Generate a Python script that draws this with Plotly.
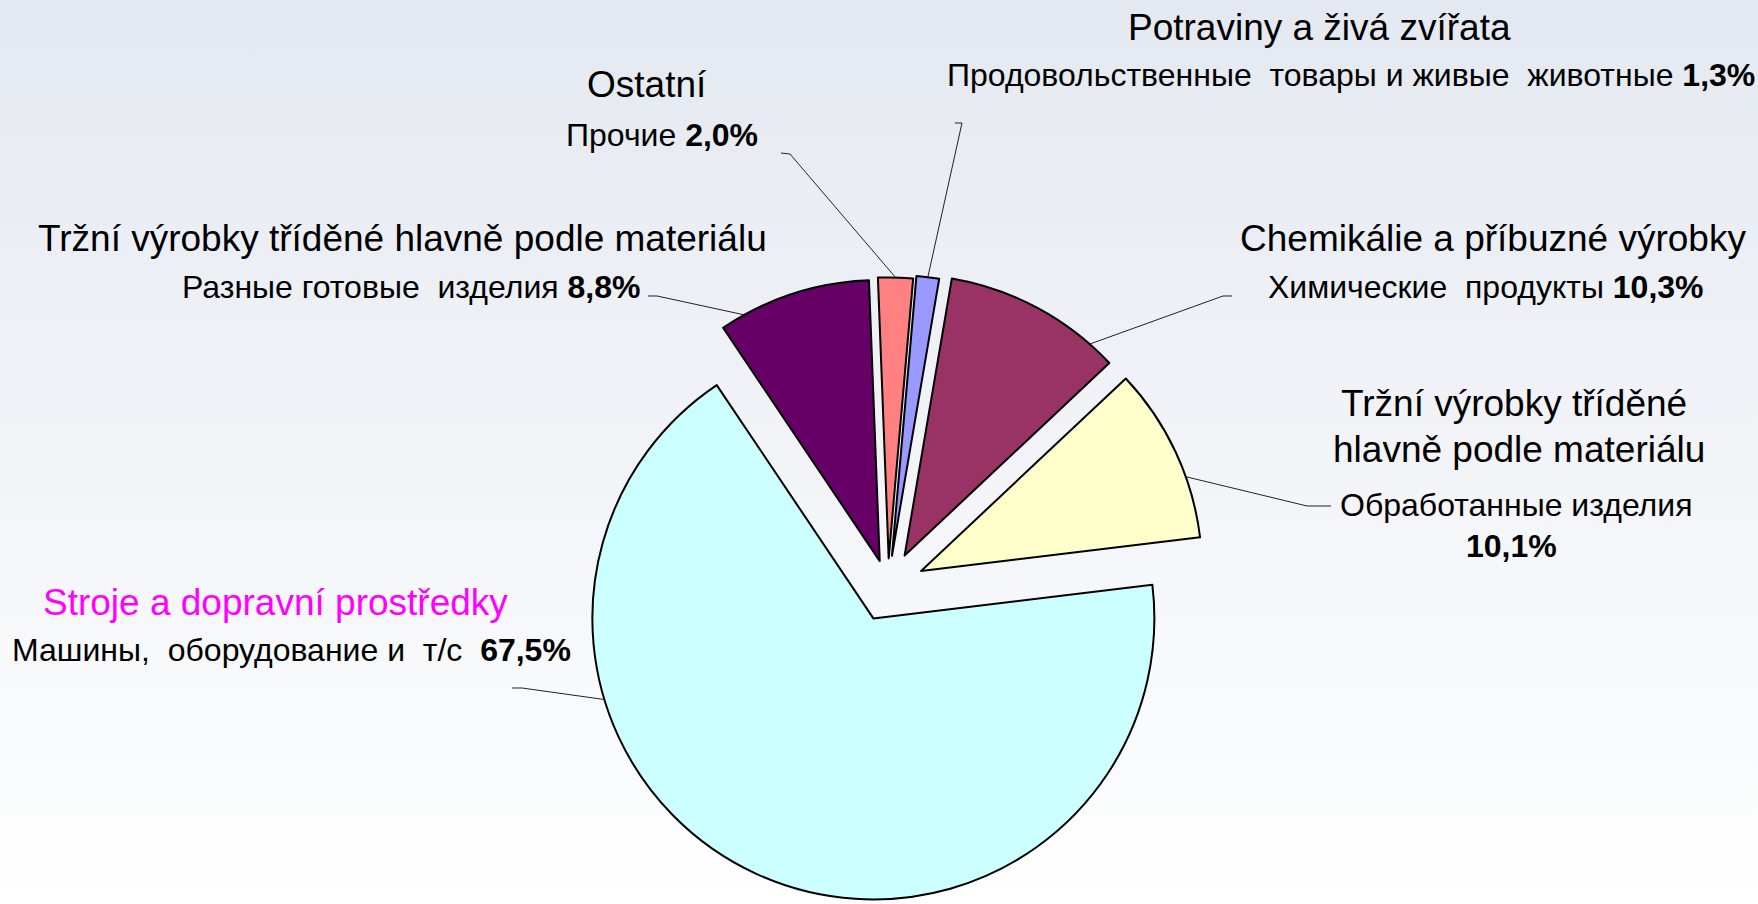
import base64
import math
import plotly.graph_objects as go

# ---------------- data ----------------
cz_names = ["Potraviny a živá zvířata",
            "Chemikálie a příbuzné výrobky",
            "Tržní výrobky tříděné hlavně podle materiálu",
            "Stroje a dopravní prostředky",
            "Tržní výrobky tříděné hlavně podle materiálu",
            "Ostatní"]
ru_names = ["Продовольственные  товары и живые  животные",
            "Химические  продукты",
            "Обработанные изделия",
            "Машины,  оборудование и  т/с",
            "Разные готовые  изделия",
            "Прочие"]
shares = [1.3, 10.3, 10.1, 67.5, 8.8, 2.0]

# ---------------- style / layout ----------------
colors = ["#9999FF", "#993366", "#FFFFCC", "#CCFFFF", "#660066", "#FF8080"]
cz_colors = ["black", "black", "black", "#FF00FF", "black", "black"]
pulls = [0.11, 0.125, 0.13, 0.125, 0.095, 0.10]
rotation = 5
W, H = 1758, 904
R = 281          # pie radius in px
CX = 888         # pie centre x in px
FONT = "Liberation Sans, Arial, sans-serif"
FS_CZ, FS_RU = 37, 32

box = 2 * R * (1 + max(pulls))
dom_x = [(CX - box / 2) / W, (CX + box / 2) / W]
dom_y = [0, box / H]
CY = H - box / 2

# label line positions (px)
label_layout = {
    0: [("cz", 1319, 27), ("ru_pct", 1351, 75)],
    1: [("cz", 1493, 239), ("ru_pct", 1486, 287)],
    2: [("cz_1", 1514, 404), ("cz_2", 1519, 450), ("ru", 1516, 505), ("pct", 1511, 546)],
    3: [("cz", 275, 602), ("ru_pct2", 291, 650)],
    4: [("cz", 402, 239), ("ru_pct", 411, 287)],
    5: [("cz", 647, 84), ("ru_pct", 662, 135)],
}
# leader line: label-side tick (start, end) in px, and fraction along slice arc
leader_layout = {
    0: ((955, 123), (962, 123), 0.5),
    1: ((1232, 296), (1223, 296), 0.85),
    2: ((1331, 506), (1307, 506), 0.65),
    3: ((512, 688), (522, 688), 0.70),
    4: ((648, 296), (657, 296), 0.16),
    5: ((781, 153), (790, 154), 0.5),
}


def keep_spaces(s):
    return s.replace("  ", " \u00a0")


def pct(v):
    return ("%.1f" % v).replace(".", ",") + "%"


# slice angular spans (degrees clockwise from 12 o'clock), as plotly draws them
total = sum(shares)
spans = []
a = rotation
for v in shares:
    b = a + 360.0 * v / total
    spans.append((a, b))
    a = b


def slice_point(i, f):
    a0, a1 = spans[i]
    m = math.radians((a0 + a1) / 2)
    ang = math.radians(a0 + f * (a1 - a0))
    scx = CX + pulls[i] * R * math.sin(m)
    scy = CY - pulls[i] * R * math.cos(m)
    return scx + R * math.sin(ang), scy - R * math.cos(ang)


def px2paper(x, y):
    return x / W, 1 - y / H


fig = go.Figure()
fig.add_trace(go.Pie(
    labels=ru_names,
    values=shares,
    sort=False,
    direction="clockwise",
    rotation=rotation,
    pull=pulls,
    marker=dict(colors=colors, line=dict(color="black", width=2)),
    textinfo="none",
    hoverinfo="label+percent",
    showlegend=False,
    domain=dict(x=dom_x, y=dom_y),
))

annotations = []
for i, lines in label_layout.items():
    words = cz_names[i].split(" ")
    for kind, x, y in lines:
        if kind == "cz":
            txt, fs, col = cz_names[i], FS_CZ, cz_colors[i]
        elif kind == "cz_1":
            txt, fs, col = " ".join(words[:3]), FS_CZ, cz_colors[i]
        elif kind == "cz_2":
            txt, fs, col = " ".join(words[3:]), FS_CZ, cz_colors[i]
        elif kind == "ru":
            txt, fs, col = keep_spaces(ru_names[i]), FS_RU, "black"
        elif kind == "pct":
            txt, fs, col = "<b>" + pct(shares[i]) + "</b>", FS_RU, "black"
        elif kind == "ru_pct2":
            txt, fs, col = keep_spaces(ru_names[i] + "  ") + "<b>" + pct(shares[i]) + "</b>", FS_RU, "black"
        else:
            txt, fs, col = keep_spaces(ru_names[i]) + " <b>" + pct(shares[i]) + "</b>", FS_RU, "black"
        px, py = px2paper(x, y)
        annotations.append(dict(
            x=px, y=py, xref="paper", yref="paper", text=txt, showarrow=False,
            xanchor="center", yanchor="middle",
            font=dict(family=FONT, size=fs, color=col),
        ))

shapes = []
for i, (p0, p1, f) in leader_layout.items():
    ax, ay = slice_point(i, f)
    pts = [px2paper(*p0), px2paper(*p1), px2paper(ax, ay)]
    path = "M %.5f %.5f L %.5f %.5f L %.5f %.5f" % (pts[0] + pts[1] + pts[2])
    shapes.append(dict(type="path", xref="paper", yref="paper", path=path,
                       line=dict(color="#222222", width=1)))

svg = ('<svg xmlns="http://www.w3.org/2000/svg" width="100" height="100" '
       'preserveAspectRatio="none"><defs><linearGradient id="g" x1="0" y1="0" '
       'x2="0" y2="1"><stop offset="0" stop-color="#E4E8F0"/>'
       '<stop offset="1" stop-color="#FFFFFF"/></linearGradient></defs>'
       '<rect width="100" height="100" fill="url(#g)"/></svg>')
bg_src = "data:image/svg+xml;base64," + base64.b64encode(svg.encode()).decode()

fig.update_layout(
    width=W, height=H,
    margin=dict(l=0, r=0, t=0, b=0),
    paper_bgcolor="white",
    plot_bgcolor="rgba(0,0,0,0)",
    annotations=annotations,
    shapes=shapes,
    images=[dict(source=bg_src, xref="paper", yref="paper", x=0, y=1,
                 sizex=1, sizey=1, sizing="stretch", layer="below",
                 xanchor="left", yanchor="top")],
    font=dict(family=FONT),
)

fig.write_html(
    "out.html",
    config={"displayModeBar": False},
    post_script="document.body.style.margin='0';document.body.style.overflow='hidden';",
)
